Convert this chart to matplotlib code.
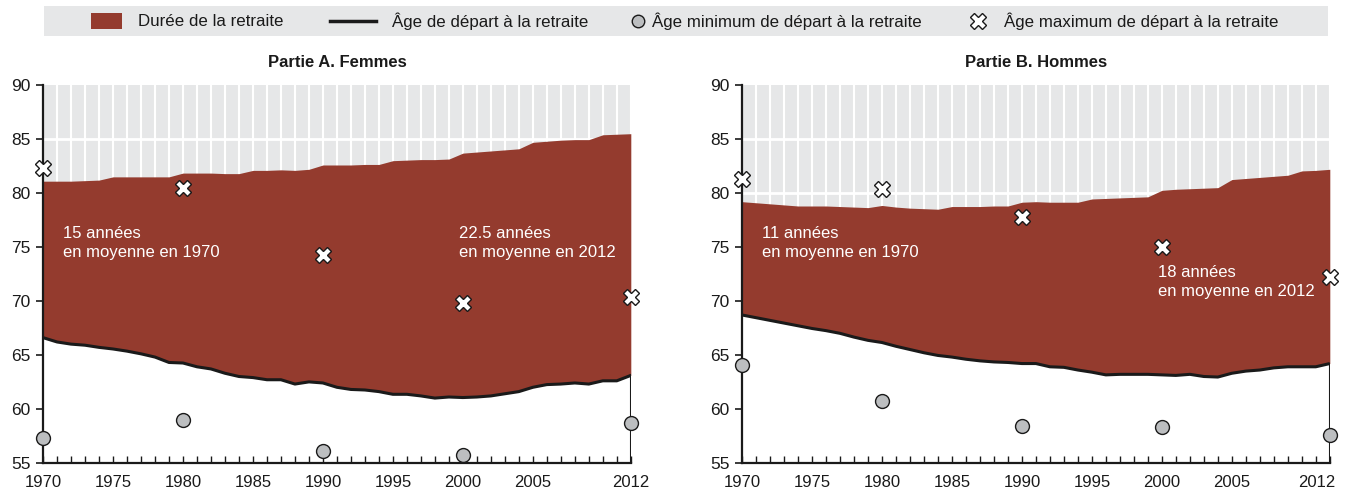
import numpy as np
import matplotlib
matplotlib.use('Agg')
import matplotlib.pyplot as plt
import matplotlib.transforms as mtransforms
from matplotlib.patches import Rectangle
from matplotlib.lines import Line2D

plt.rcParams['font.family'] = ['Liberation Sans', 'DejaVu Sans']

# data
years = np.arange(1970, 2013)
point_years = [1970, 1980, 1990, 2000, 2012]

femmes_esperance = [81.1, 81.1, 81.1, 81.15, 81.2, 81.5, 81.5, 81.5, 81.5, 81.5,
                    81.85, 81.85, 81.85, 81.8, 81.8, 82.1, 82.1, 82.15, 82.1, 82.2,
                    82.6, 82.6, 82.6, 82.65, 82.65, 83.0, 83.05, 83.1, 83.1, 83.15,
                    83.7, 83.8, 83.9, 84.0, 84.1, 84.7, 84.8, 84.9, 84.95, 84.95,
                    85.4, 85.45, 85.5]
femmes_depart = [66.6, 66.2, 66.0, 65.9, 65.7, 65.55, 65.35, 65.1, 64.8, 64.3,
                 64.25, 63.9, 63.7, 63.3, 63.0, 62.9, 62.7, 62.7, 62.3, 62.5,
                 62.4, 62.0, 61.8, 61.75, 61.6, 61.35, 61.35, 61.2, 61.0, 61.1,
                 61.05, 61.1, 61.2, 61.4, 61.6, 62.0, 62.25, 62.3, 62.4, 62.3,
                 62.6, 62.6, 63.1]
femmes_min = [57.3, 59.0, 56.05, 55.75, 58.7]
femmes_max = [82.3, 80.5, 74.3, 69.85, 70.35]

hommes_esperance = [79.2, 79.1, 79.0, 78.9, 78.8, 78.8, 78.8, 78.75, 78.7, 78.65,
                    78.85, 78.7, 78.6, 78.55, 78.5, 78.75, 78.75, 78.75, 78.8, 78.8,
                    79.15, 79.2, 79.15, 79.15, 79.15, 79.45, 79.5, 79.55, 79.6, 79.65,
                    80.25, 80.35, 80.4, 80.45, 80.5, 81.25, 81.35, 81.45, 81.55, 81.65,
                    82.05, 82.1, 82.2]
hommes_depart = [68.7, 68.45, 68.2, 67.95, 67.7, 67.45, 67.25, 67.0, 66.65, 66.35,
                 66.15, 65.8, 65.5, 65.2, 64.95, 64.8, 64.6, 64.45, 64.35, 64.3,
                 64.2, 64.2, 63.9, 63.85, 63.6, 63.4, 63.15, 63.2, 63.2, 63.2,
                 63.15, 63.1, 63.2, 63.0, 62.95, 63.3, 63.5, 63.6, 63.8, 63.9,
                 63.9, 63.9, 64.2]
hommes_min = [64.1, 60.75, 58.45, 58.3, 57.6]
hommes_max = [81.3, 80.35, 77.75, 75.0, 72.2]

xtick_pos = [1970, 1975, 1980, 1985, 1990, 1995, 2000, 2005, 2012]
xtick_labels = ['1970', '1975', '1980', '1985', '1990', '1995', '2000', '2005', '2012']

rouge = '#943b2e'
gris = '#e6e7e8'
gris_point = '#bcbec0'
noir = '#1a1a1a'

fig = plt.figure(figsize=(13.45, 4.95), dpi=100)

def panel(rect, titre, haut, bas, mini, maxi, notes):
    ax = fig.add_axes(rect)
    ax.set_facecolor(gris)
    ax.set_xlim(1970, 2012)
    ax.set_ylim(55, 90)
    for yr in years:
        ax.axvline(yr, color='white', lw=1.5, zorder=0.5)
    for v in range(60, 90, 5):
        ax.axhline(v, color='white', lw=2, zorder=0.5)
    # white area under the retirement-age line
    ax.fill_between(years, 55, bas, color='white', lw=0, zorder=1)
    ax.fill_between(years, bas, haut, color=rouge, lw=0, zorder=1)
    ax.plot(years, bas, color=noir, lw=2.2, zorder=2, solid_capstyle='butt')
    ax.plot([2012, 2012], [55, bas[-1]], color=noir, lw=1.5, zorder=2)
    ax.plot(point_years, mini, 'o', ms=10, mfc=gris_point, mec=noir, mew=1,
            zorder=4, clip_on=False)
    ax.plot(point_years, maxi, 'X', ms=12, mfc='white', mec=noir, mew=1,
            zorder=4, clip_on=False)
    for x, y, s in notes:
        ax.text(x, y, s, color='white', fontsize=12, va='center', ha='left',
                linespacing=1.35, zorder=3)
    for s in ['top', 'right']:
        ax.spines[s].set_visible(False)
    for s in ['left', 'bottom']:
        ax.spines[s].set_linewidth(1.6)
        ax.spines[s].set_color(noir)
        ax.spines[s].set_zorder(3)
    ax.set_yticks(range(55, 91, 5))
    ax.tick_params(axis='y', direction='out', length=5, width=1.2, labelsize=12.5,
                   pad=4, colors=noir)
    ax.set_xticks(xtick_pos)
    ax.set_xticklabels(xtick_labels)
    ax.set_xticks(years, minor=True)
    ax.tick_params(axis='x', which='both', direction='in', length=5, width=1,
                   labelsize=12, pad=9, colors=noir)
    ax.set_title(titre, fontsize=12, fontweight='bold', pad=13, color=noir)
    return ax

panel([0.032, 0.065, 0.437, 0.763], 'Partie A. Femmes',
      femmes_esperance, femmes_depart, femmes_min, femmes_max,
      [(1971.4, 75.35, '15 années\nen moyenne en 1970'),
       (1999.7, 75.35, '22.5 années\nen moyenne en 2012')])
axB = panel([0.5517, 0.065, 0.437, 0.763], 'Partie B. Hommes',
            hommes_esperance, hommes_depart, hommes_min, hommes_max,
            [(1971.4, 75.35, '11 années\nen moyenne en 1970'),
             (1999.7, 71.75, '18 années\nen moyenne en 2012')])
# last label pulled a bit left so it stays inside the figure
last = axB.get_xticklabels()[-1]
last.set_transform(last.get_transform() +
                   mtransforms.ScaledTranslation(-0.13, 0, fig.dpi_scale_trans))

# legend band
lg = fig.add_axes([0, 0, 1, 1], zorder=-1)
lg.set_xlim(0, 1345)
lg.set_ylim(495, 0)
lg.axis('off')
lg.add_patch(Rectangle((44, 6), 1284, 30, color=gris, lw=0))
lg.add_patch(Rectangle((91, 13), 31, 16, color=rouge, lw=0))
lg.add_line(Line2D([330, 376], [21, 21], color=noir, lw=2.5))
lg.plot([638], [21], 'o', ms=9, mfc=gris_point, mec=noir, mew=1)
lg.plot([978], [21], 'X', ms=11, mfc='white', mec=noir, mew=1)
legend_labels = ['Durée de la retraite', 'Âge de départ à la retraite',
                 'Âge minimum de départ à la retraite', 'Âge maximum de départ à la retraite']
for x, s in zip([138, 392, 652, 1004], legend_labels):
    lg.text(x, 21, s, fontsize=12.2, va='center', ha='left', color=noir)

fig.savefig('out.png', dpi=100)
